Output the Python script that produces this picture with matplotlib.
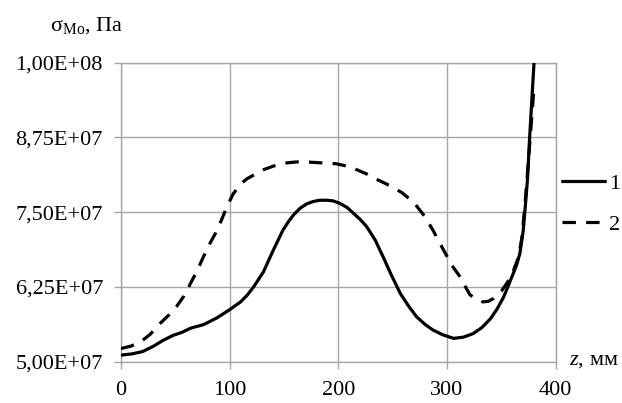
import matplotlib
matplotlib.use("Agg")
import matplotlib.pyplot as plt

plt.rcParams['font.family'] = ['Liberation Serif', 'DejaVu Serif']
plt.rcParams['mathtext.fontset'] = 'custom'
plt.rcParams['mathtext.rm'] = 'Liberation Serif'
plt.rcParams['mathtext.it'] = 'Liberation Serif:italic'

# Curve 1 (solid)
z1 = [0, 10, 20, 30, 39, 48, 56, 64, 76, 88, 100, 110, 116, 122, 131, 140, 149,
      154, 159, 165, 171, 177, 183, 189, 195, 201, 208, 214, 220, 226, 234, 241,
      249, 257, 265, 272, 280, 287, 296, 306, 315, 324, 332, 340, 346, 352, 357,
      361, 364, 367, 370, 372, 374, 376, 378, 380]
s1 = [5.11e7, 5.13e7, 5.17e7, 5.26e7, 5.36e7, 5.44e7, 5.49e7, 5.56e7, 5.62e7,
      5.73e7, 5.87e7, 6.00e7, 6.11e7, 6.25e7, 6.50e7, 6.86e7, 7.20e7, 7.34e7,
      7.46e7, 7.57e7, 7.64e7, 7.68e7, 7.70e7, 7.70e7, 7.69e7, 7.65e7, 7.58e7,
      7.48e7, 7.38e7, 7.26e7, 7.03e7, 6.76e7, 6.44e7, 6.14e7, 5.92e7, 5.75e7,
      5.62e7, 5.53e7, 5.45e7, 5.39e7, 5.41e7, 5.47e7, 5.57e7, 5.72e7, 5.88e7,
      6.08e7, 6.30e7, 6.48e7, 6.62e7, 6.81e7, 7.18e7, 7.60e7, 8.05e7, 8.76e7,
      9.38e7, 1.0e8]

# Curve 2 (dashed)
z2 = [0, 9, 18, 27, 36, 44, 51, 58, 64, 70, 76, 81, 87, 92, 97, 103, 110, 116,
      122, 131, 140, 150, 161, 170, 180, 189, 198, 208, 217, 226, 234, 241, 250,
      259, 270, 279, 287, 294, 300, 306, 312, 317, 321, 327, 333, 338, 343, 350,
      356, 361, 366, 369, 372, 375, 378, 380]
s2 = [5.22e7, 5.26e7, 5.33e7, 5.46e7, 5.64e7, 5.78e7, 5.92e7, 6.10e7, 6.31e7,
      6.52e7, 6.76e7, 6.95e7, 7.15e7, 7.35e7, 7.57e7, 7.80e7, 7.97e7, 8.06e7,
      8.12e7, 8.21e7, 8.27e7, 8.32e7, 8.34e7, 8.34e7, 8.33e7, 8.32e7, 8.31e7,
      8.27e7, 8.21e7, 8.14e7, 8.06e7, 8.00e7, 7.92e7, 7.82e7, 7.65e7, 7.44e7,
      7.20e7, 6.96e7, 6.76e7, 6.57e7, 6.42e7, 6.25e7, 6.12e7, 6.04e7, 6.00e7,
      6.01e7, 6.06e7, 6.18e7, 6.34e7, 6.52e7, 6.76e7, 7.10e7, 7.70e7, 8.40e7,
      9.10e7, 9.60e7]

x_ticks = [0, 100, 200, 300, 400]
y_ticks = [5.0e7, 6.25e7, 7.5e7, 8.75e7, 1.0e8]
y_tick_labels = ['5,00E+07', '6,25E+07', '7,50E+07', '8,75E+07', '1,00E+08']
series_labels = ['1', '2']

grid_color = '#a6a6a6'

fig = plt.figure(figsize=(6.22, 4.03), dpi=100)
ax = fig.add_axes([0.1945, 0.1025, 0.699, 0.7419])

ax.plot(z1, s1, color='black', lw=2.3, solid_capstyle='round',
        solid_joinstyle='round', label=series_labels[0], zorder=3)
ax.plot(z2, s2, color='black', lw=2.3, dashes=(4.2, 3.2),
        dash_capstyle='butt', label=series_labels[1], zorder=3)

ax.set_xlim(0, 400)
ax.set_ylim(5.0e7, 1.0e8)
ax.set_xticks(x_ticks)
ax.set_xticklabels([str(v) for v in x_ticks])
ax.set_yticks(y_ticks)
ax.set_yticklabels(y_tick_labels)
ax.grid(True, color=grid_color, lw=1.0)
ax.set_axisbelow(True)
for sp in ax.spines.values():
    sp.set_color(grid_color)
    sp.set_linewidth(1.0)
ax.tick_params(axis='both', colors=grid_color, length=5, width=1.0,
               labelsize=16, labelcolor='black')
ax.tick_params(axis='x', pad=9)
ax.tick_params(axis='y', pad=8)

leg = ax.legend(loc='center left', bbox_to_anchor=(1.0, 0.527), frameon=False,
                fontsize=16, handlelength=1.9, handletextpad=0.2,
                labelspacing=0.95, borderaxespad=0.3, borderpad=0.0)

fig.text(0.08, 0.925, r'$\mathrm{\sigma_{Mo}}$, Па', fontsize=16, ha='left',
         va='baseline')
fig.text(0.915, 0.095, r'$z$, мм', fontsize=16, ha='left', va='baseline')

fig.savefig('out.png', dpi=100)
